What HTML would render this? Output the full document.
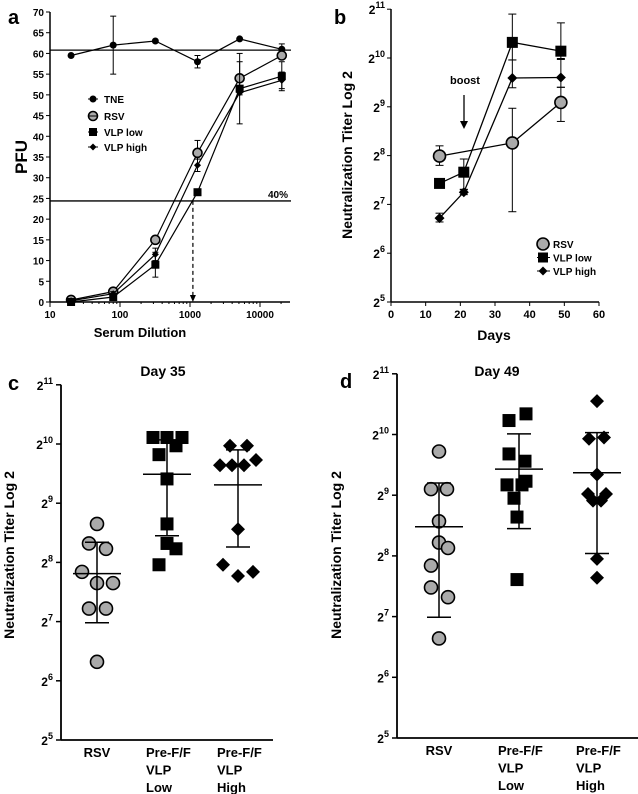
<!DOCTYPE html>
<html><head><meta charset="utf-8"><style>
body{margin:0;background:#fff;}
svg{display:block;font-family:"Liberation Sans",sans-serif;font-weight:bold;}
</style></head><body>
<svg id="fig" width="638" height="794" viewBox="0 0 638 794"></svg>
<script>
// ---------- Panel a data ----------
const aDil = [20, 80, 320, 1280, 5120, 20480];
const aTNE = [59.5, 62, 63, 58, 63.5, 61];
const aTNEerr = [0, 7, 0, 1.5, 0, 1.3];
const aRSV = [0.5, 2.5, 15, 36, 54, 59.5];
const aRSVerr = [0, 0.5, 0, 3, 4, 0];
const aLow = [0, 1.2, 9, 26.5, 51.5, 54.5];
const aLowErr = [0, 0, 3, 0, 8.5, 3.5];
const aHigh = [0.3, 2, 11.5, 33, 50.5, 53.5];
const aHighErr = [0, 0.5, 1.5, 1.5, 0, 2];
const aYTicks = [0,5,10,15,20,25,30,35,40,45,50,55,60,65,70];
const aXTicks = [10,100,1000,10000];
const aRefLines = [60.8, 24.4];
const aCutoff = 1100;
// ---------- Panel b data ----------
const bRSVdays = [14, 35, 49];
const bRSV = [7.99, 8.26, 9.09];
const bRSVlo = [7.8, 6.85, 8.7];
const bRSVhi = [8.2, 8.97, 9.4];
const bVLPdays = [14, 21, 35, 49];
const bLow = [7.43, 7.66, 10.32, 10.14];
const bLowLo = [7.35, 7.31, 9.96, 9.99];
const bLowHi = [7.51, 7.93, 10.9, 10.72];
const bHigh = [6.72, 7.25, 9.59, 9.6];
const bHighLo = [6.64, 7.2, 9.39, 9.4];
const bHighHi = [6.82, 7.3, 9.96, 9.97];
const bXTicks = [0,10,20,30,40,50,60];
const bYTicks = [5,6,7,8,9,10,11];
// ---------- Panel c data (log2 titers) ----------
const cCats = ["RSV","Pre-F/F VLP Low","Pre-F/F VLP High"];
const cRSV = [8.65,8.32,8.23,7.84,7.65,7.65,7.22,7.22,6.32];
const cRSVjit = [0,-8,9,-15,0,16,-8,9,0];
const cLow = [10.11,10.11,10.11,9.97,9.82,9.41,8.65,8.32,8.23,7.96];
const cLowJit = [-14,0,15,9,-8,0,0,0,9,-8];
const cHigh = [9.97,9.97,9.64,9.64,9.64,9.73,8.56,7.96,7.77,7.84];
const cHighJit = [-8,9,-18,-6,6,18,0,-15,0,15];
const cMean = [7.81, 9.49, 9.31];
const cSdHi = [8.34, 10.07, 9.9];
const cSdLo = [6.98, 8.45, 8.26];
// ---------- Panel d data ----------
const dRSV = [9.72,9.10,9.10,8.57,8.22,8.13,7.84,7.48,7.32,6.64];
const dRSVjit = [0,-8,8,0,0,9,-8,-8,9,0];
const dLow = [10.23,10.34,9.68,9.56,9.17,9.17,9.23,8.95,8.64,7.61];
const dLowJit = [-10,7,-10,6,-12,3,7,-5,-2,-2];
const dHigh = [10.55,9.93,9.95,9.34,9.02,9.02,8.91,8.91,7.95,7.64];
const dHighJit = [0,-8,7,0,-9,9,-4,4,0,0];
const dMean = [8.48, 9.43, 9.37];
const dSdHi = [9.2, 10.01, 10.03];
const dSdLo = [6.99, 8.45, 8.04];
const dotYTicks = [5,6,7,8,9,10,11];

const NS = "http://www.w3.org/2000/svg";
const svg = document.getElementById("fig");
function mk(tag, attrs, parent){
  const e = document.createElementNS(NS, tag);
  for (const k in attrs) e.setAttribute(k, attrs[k]);
  (parent||svg).appendChild(e);
  return e;
}
function line(x1,y1,x2,y2,w,g){ return mk("line",{x1,y1,x2,y2,stroke:"#000","stroke-width":w||1.3},g); }
function txt(x,y,s,size,anchor,g){ const t=mk("text",{x,y,"font-size":size,"text-anchor":anchor||"middle",fill:"#000"},g); t.textContent=s; return t; }
function pow2(x,y,e,g){
  const t=mk("text",{x,y,"font-size":12,"text-anchor":"end",fill:"#000"},g);
  const a=mk("tspan",{},t); a.textContent="2";
  const b=mk("tspan",{dy:-6,"font-size":9},t); b.textContent=String(e);
  return t;
}
function marker(type,x,y,s,g){
  let m;
  if(type==="circle") m=mk("circle",{cx:x,cy:y,r:s,fill:"#aaa",stroke:"#000","stroke-width":1.6},g);
  else if(type==="square") m=mk("rect",{x:x-s,y:y-s,width:2*s,height:2*s,fill:"#000"},g);
  else m=mk("polygon",{points:`${x},${y-s} ${x+s},${y} ${x},${y+s} ${x-s},${y}`,fill:"#000"},g);
  return m;
}
function errbar(x,y1,y2,cap,g){ line(x,y1,x,y2,1,g); line(x-cap,y1,x+cap,y1,1,g); line(x-cap,y2,x+cap,y2,1,g); }

// ================= Panel a =================
(function(){
  const g = mk("g",{});
  
  
  const X = d => 50 + 70*(Math.log10(d)-1);
  const Y = v => 302 - v*290/70;
  txt(8,24,"a",20,"start",g);
  line(50,12,50,302,1.5,g); line(50,302,290,302,1.5,g);
  aYTicks.forEach(v=>{ line(46,Y(v),50,Y(v),1,g); txt(44,Y(v)+4,String(v),10,"end",g); });
  for(let dec=10; dec<100000; dec*=10){
    for(let k=1;k<10;k++){ const d=dec*k; const x=X(d); if(x>290) break; line(x,302,x,k===1?307:304,1,g); }
  }
  aXTicks.forEach(v=>txt(X(v),318,String(v),10,"middle",g));
  txt(140,337,"Serum Dilution",13,"middle",g);
  const yt=txt(27,157,"PFU",17,"middle",g); yt.setAttribute("transform","rotate(-90 27 157)");
  aRefLines.forEach(v=>line(50,Y(v),291,Y(v),1.3,g));
  txt(288,Y(aRefLines[1])-3,"40%",10,"end",g);
  const cx=X(aCutoff);
  mk("line",{x1:cx,y1:Y(aRefLines[1]),x2:cx,y2:296,stroke:"#000","stroke-width":1.2,"stroke-dasharray":"4,3"},g);
  mk("polygon",{points:`${cx-3},295 ${cx+3},295 ${cx},302`,fill:"#000"},g);
  const series=[[aTNE,aTNEerr,"circle-black"],[aRSV,aRSVerr,"circle"],[aLow,aLowErr,"square"],[aHigh,aHighErr,"diamond"]];
  series.forEach(([vals,errs,type])=>{
    const pts=vals.map((v,i)=>`${X(aDil[i])},${Y(v)}`).join(" ");
    mk("polyline",{points:pts,fill:"none",stroke:"#000","stroke-width":1.2},g);
    vals.forEach((v,i)=>{ if(errs[i]>0) errbar(X(aDil[i]),Y(v-errs[i]),Y(v+errs[i]),3,g); });
    vals.forEach((v,i)=>{
      let m;
      if(type==="circle-black"){ m=mk("circle",{cx:X(aDil[i]),cy:Y(v),r:3.5,fill:"#000"},g); }
      else if(type==="circle") m=marker("circle",X(aDil[i]),Y(v),4.5,g);
      else if(type==="square") m=marker("square",X(aDil[i]),Y(v),4,g);
      else m=marker("diamond",X(aDil[i]),Y(v),3.5,g);
      
      
    });
  });
  const leg=[["circle-black","TNE"],["circle","RSV"],["square","VLP low"],["diamond","VLP high"]];
  leg.forEach(([t,l],i)=>{
    const y=[99,116,132,147][i];
    if(t==="circle-black") mk("circle",{cx:93,cy:y,r:3.5,fill:"#000"},g);
    else marker(t,93,y,t==="circle"?4.5:t==="square"?4:3.5,g);
    line(88,y,98,y,1,g);
    const tt=txt(104,y+4,l,10,"start",g);
    
    
  });
})();

// ================= Panel b =================
(function(){
  const g = mk("g",{});
  
  
  const X = d => 391 + d*208/60;
  const Y = v => 302 - (v-5)*48.8;
  txt(334,24,"b",20,"start",g);
  line(391,9,391,302,1.5,g); line(391,302,599,302,1.5,g);
  bYTicks.forEach(v=>{ line(387,Y(v),391,Y(v),1,g); pow2(385,Y(v)+5,v,g); });
  bXTicks.forEach(v=>{ line(X(v),302,X(v),306,1,g); txt(X(v),318,String(v),11,"middle",g); });
  txt(494,340,"Days",14,"middle",g);
  const yt=txt(352,155,"Neutralization Titer Log 2",14,"middle",g); yt.setAttribute("transform","rotate(-90 352 155)");
  txt(465,84,"boost",11,"middle",g);
  line(464,95,464,122,1.3,g);
  mk("polygon",{points:"460,121 468,121 464,129",fill:"#000"},g);
  const series=[[bRSVdays,bRSV,bRSVlo,bRSVhi,"circle",6],[bVLPdays,bLow,bLowLo,bLowHi,"square",5.5],[bVLPdays,bHigh,bHighLo,bHighHi,"diamond",5]];
  series.forEach(([days,vals,lo,hi,type,s])=>{
    vals.forEach((v,i)=>errbar(X(days[i]),Y(lo[i]),Y(hi[i]),4,g));
    mk("polyline",{points:vals.map((v,i)=>`${X(days[i])},${Y(v)}`).join(" "),fill:"none",stroke:"#000","stroke-width":1.3},g);
    vals.forEach((v,i)=>{ const m=marker(type,X(days[i]),Y(v),s,g);
      
       });
  });
  [["circle","RSV",6],["square","VLP low",5],["diamond","VLP high",4.5]].forEach(([t,l,s],i)=>{
    const y=244+i*13.5;
    line(537,y,550,y,1,g);
    marker(t,543,y,s,g);
    const tt=txt(553,y+4,l,10,"start",g);
    
    
  });
})();

// ================= Panels c & d =================
function dotPanel(name,letter,lx,ly,axX,axEnd,y5,unit,centers,title,titleX,sets,mean,sdHi,sdLo,ytX){
  const g = mk("g",{});
  
  
  const Y = v => y5 - (v-5)*unit;
  txt(lx,ly,letter,20,"start",g);
  line(axX,Y(11),axX,y5,1.8,g); line(axX,y5,axEnd,y5,1.8,g);
  dotYTicks.forEach(v=>{ line(axX-5,Y(v),axX,Y(v),1.5,g); pow2(axX-8,Y(v)+5,v,g); });
  txt(titleX,376,title,14,"middle",g);
  const yt=txt(ytX,555,"Neutralization Titer Log 2",14,"middle",g); yt.setAttribute("transform",`rotate(-90 ${ytX} 555)`);
  const labs=[["RSV"],["Pre-F/F","VLP","Low"],["Pre-F/F","VLP","High"]];
  labs.forEach((ls,i)=>ls.forEach((l,j)=>{
    const x = i===0?centers[0]:centers[i]-21;
    txt(x,y5+17+j*17.5,l,13,i===0?"middle":"start",g);
  }));
  const types=[["circle",6.5],["square",6.5],["diamond",7]];
  sets.forEach(([vals,jit],ci)=>{
    vals.forEach((v,i)=>{
      const m=marker(types[ci][0],centers[ci]+jit[i],Y(v),types[ci][1],g);
      
      
    });
    line(centers[ci],Y(sdHi[ci]),centers[ci],Y(sdLo[ci]),1.5,g);
    line(centers[ci]-12,Y(sdHi[ci]),centers[ci]+12,Y(sdHi[ci]),1.5,g);
    line(centers[ci]-12,Y(sdLo[ci]),centers[ci]+12,Y(sdLo[ci]),1.5,g);
    const ml=line(centers[ci]-24,Y(mean[ci]),centers[ci]+24,Y(mean[ci]),1.5,g);
    
    
  });
}
dotPanel("panel-c","c",8,390,61,273,740,59.2,[97,167,238],"Day 35",163,
  [[cRSV,cRSVjit],[cLow,cLowJit],[cHigh,cHighJit]],cMean,cSdHi,cSdLo,14);
dotPanel("panel-d","d",340,388,397,638,738,60.7,[439,519,597],"Day 49",497,
  [[dRSV,dRSVjit],[dLow,dLowJit],[dHigh,dHighJit]],dMean,dSdHi,dSdLo,341);
</script>
</body></html>
